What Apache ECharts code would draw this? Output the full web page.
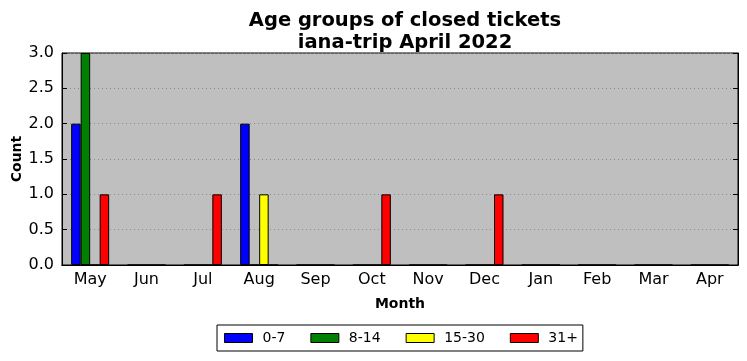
<!DOCTYPE html>
<html><head><meta charset="utf-8">
<script src="https://cdn.jsdelivr.net/npm/echarts@6/dist/echarts.min.js"></script>
<style>html,body{margin:0;padding:0;background:#fff}#c{width:747px;height:361px}</style>
</head><body><div id="c"></div>
<script>
const months = ['May','Jun','Jul','Aug','Sep','Oct','Nov','Dec','Jan','Feb','Mar','Apr'];
const age0_7   = [2,0,0,2,0,0,0,0,0,0,0,0];
const age8_14  = [3,0,0,0,0,0,0,0,0,0,0,0];
const age15_30 = [0,0,0,1,0,0,0,0,0,0,0,0];
const age31p   = [1,0,1,0,0,1,0,1,0,0,0,0];
const seriesNames = ['0-7','8-14','15-30','31+'];
const colors = ['#0000ff','#008000','#ffff00','#ff0000'];
const yTicks = [0,0.5,1,1.5,2,2.5,3];

const font = 'DejaVu Sans';
const chart = echarts.init(document.getElementById('c'));
const data = [age0_7, age8_14, age15_30, age31p];
chart.setOption({
  animation:false,
  title:{text:'Age groups of closed tickets\niana-trip April 2022',left:400,top:5,
    textAlign:'center',
    textStyle:{fontFamily:font,fontWeight:'bold',fontSize:19.5,lineHeight:22,color:'#000'}},
  grid:{left:62,right:9,top:53,bottom:96,outerBoundsMode:'none',containLabel:false,
    backgroundColor:'#bfbfbf',show:true,borderColor:'#000',borderWidth:1},
  legend:{bottom:10,left:217,itemWidth:28,itemHeight:9,itemGap:25,
    borderColor:'#000',borderWidth:1,padding:[6,5,6,7],borderRadius:0,
    icon:'rect',
    textStyle:{fontFamily:font,fontSize:14,color:'#000',padding:[0,0,0,5]},
    data:seriesNames.map(n=>({name:n,itemStyle:{borderColor:'#000',borderWidth:1}}))},
  xAxis:[{type:'category',data:months,
    name:'Month',nameLocation:'middle',nameGap:32,nameMoveOverlap:false,
    nameTextStyle:{fontFamily:font,fontWeight:'bold',fontSize:14,color:'#000'},
    axisLine:{lineStyle:{color:'#000'}},
    axisTick:{inside:true,alignWithLabel:true,length:5,lineStyle:{color:'#000'}},
    axisLabel:{fontFamily:font,fontSize:16,color:'#000',margin:7}},
   {type:'category',data:months,position:'top',
    axisLine:{lineStyle:{color:'#000'}},
    axisTick:{inside:true,alignWithLabel:true,length:5,lineStyle:{color:'#000'}},
    axisLabel:{show:false}}],
  yAxis:[{type:'value',min:0,max:3,interval:0.5,
    name:'Count',nameLocation:'middle',nameGap:38,nameMoveOverlap:false,
    nameTextStyle:{fontFamily:font,fontWeight:'bold',fontSize:14,color:'#000'},
    axisLine:{show:true,lineStyle:{color:'#000'}},
    axisTick:{show:true,inside:true,length:5,lineStyle:{color:'#000'}},
    axisLabel:{fontFamily:font,fontSize:16,color:'#000',margin:8,formatter:v=>v.toFixed(1)},
    splitLine:{show:true,lineStyle:{color:'#8c8c8c',type:[1,3],width:1}}},
   {type:'value',min:0,max:3,interval:0.5,position:'right',
    axisLine:{show:true,lineStyle:{color:'#000'}},
    axisTick:{show:true,inside:true,length:5,lineStyle:{color:'#000'}},
    axisLabel:{show:false},splitLine:{show:false}}],
  series:seriesNames.map((n,i)=>({name:n,type:'bar',data:data[i],
    xAxisIndex:0,yAxisIndex:0,
    barWidth:9.5,barGap:'0%',
    itemStyle:{color:colors[i],borderColor:'#000',borderWidth:1}}))
});
</script></body></html>
